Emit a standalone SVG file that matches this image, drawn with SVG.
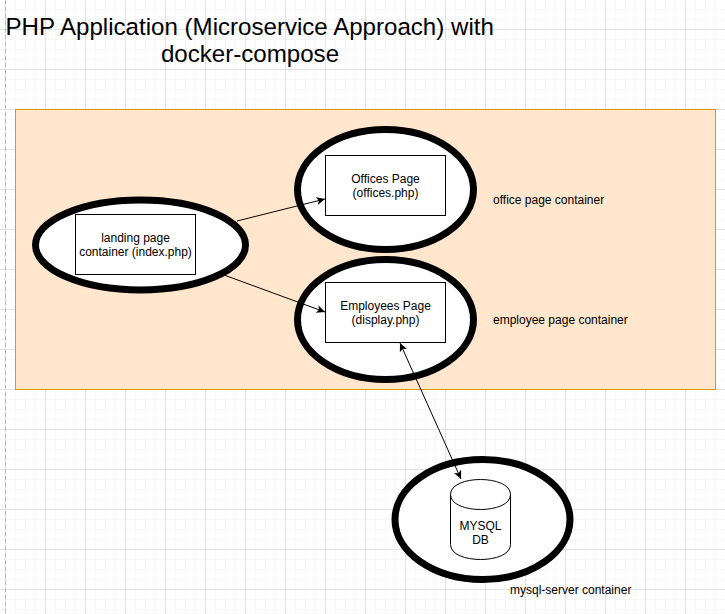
<svg xmlns="http://www.w3.org/2000/svg" width="725" height="614" viewBox="0 0 725 614">
<style>
text{font-family:"Liberation Sans",Arial,sans-serif;font-size:12px;fill:#000}
.c{text-anchor:middle}
.t{font-size:24.1px}
.e{fill:#fff;stroke:#000;stroke-width:7}
.b{fill:#fff;stroke:#000;stroke-width:1}
.l{fill:none;stroke:#000;stroke-width:1}
</style>
<defs>
<pattern id="minor" width="10" height="10" patternUnits="userSpaceOnUse" x="5" y="9"><path d="M.5 0V10M0 .5H10" fill="none" stroke="#f7f7f7" stroke-width="1"/></pattern>
<pattern id="major" width="40" height="40" patternUnits="userSpaceOnUse" x="5" y="29"><path d="M.5 0V40M0 .5H40" fill="none" stroke="#e2e2e2" stroke-width="1"/></pattern>
<marker id="a" markerWidth="9" markerHeight="8" refX="8.5" refY="4" orient="auto-start-reverse" markerUnits="userSpaceOnUse"><path d="M0 0L8.5 4L0 8L2.2 4Z" fill="#000"/></marker>
</defs>
<rect width="725" height="614" fill="#fff"/>
<rect width="725" height="614" fill="url(#minor)"/>
<rect width="725" height="614" fill="url(#major)"/>
<path d="M5.5 0V614" stroke="#b8b8b8" stroke-dasharray="4 3" fill="none"/>
<g id="title"><text class="t" x="5.5" y="35">PHP Application (Microservice Approach) with</text><text class="t c" x="250" y="62">docker-compose</text></g>
<g id="container"><rect x="15.5" y="109.5" width="700" height="280" fill="#ffe6cc" stroke="#d79b00"/></g>
<g id="landing"><ellipse class="e" cx="140.5" cy="245" rx="105" ry="45"/><rect class="b" x="75.5" y="214.5" width="120" height="60"/><text class="c" x="135.5" y="242">landing page</text><text class="c" x="135.5" y="256">container (index.php)</text></g>
<g id="offices"><ellipse class="e" cx="385.5" cy="189.5" rx="88" ry="60"/><rect class="b" x="325.5" y="155.5" width="120" height="60"/><text class="c" x="385.5" y="183">Offices Page</text><text class="c" x="385.5" y="197">(offices.php)</text></g>
<g id="employees"><ellipse class="e" cx="385.5" cy="319.5" rx="88" ry="60"/><rect class="b" x="325.5" y="282.5" width="120" height="60"/><text class="c" x="385.5" y="310">Employees Page</text><text class="c" x="385.5" y="324">(display.php)</text></g>
<g id="mysql"><ellipse class="e" cx="482.5" cy="519.5" rx="87.5" ry="60"/><path class="b" d="M450.5 494.5C450.5 474.5 510.5 474.5 510.5 494.5V544.5C510.5 564.5 450.5 564.5 450.5 544.5Z"/><path class="l" d="M450.5 494.5C450.5 514.5 510.5 514.5 510.5 494.5"/><text class="c" x="480.5" y="530">MYSQL</text><text class="c" x="480.5" y="544">DB</text></g>
<g id="labels"><text x="493" y="204">office page container</text><text x="493" y="324">employee page container</text><text x="510" y="594">mysql-server container</text></g>
<g id="connectors"><path class="l" d="M237 221L325 199" marker-end="url(#a)"/><path class="l" d="M224 275L325 312" marker-end="url(#a)"/><path class="l" d="M400 343L461 479" marker-start="url(#a)" marker-end="url(#a)"/></g>
</svg>
